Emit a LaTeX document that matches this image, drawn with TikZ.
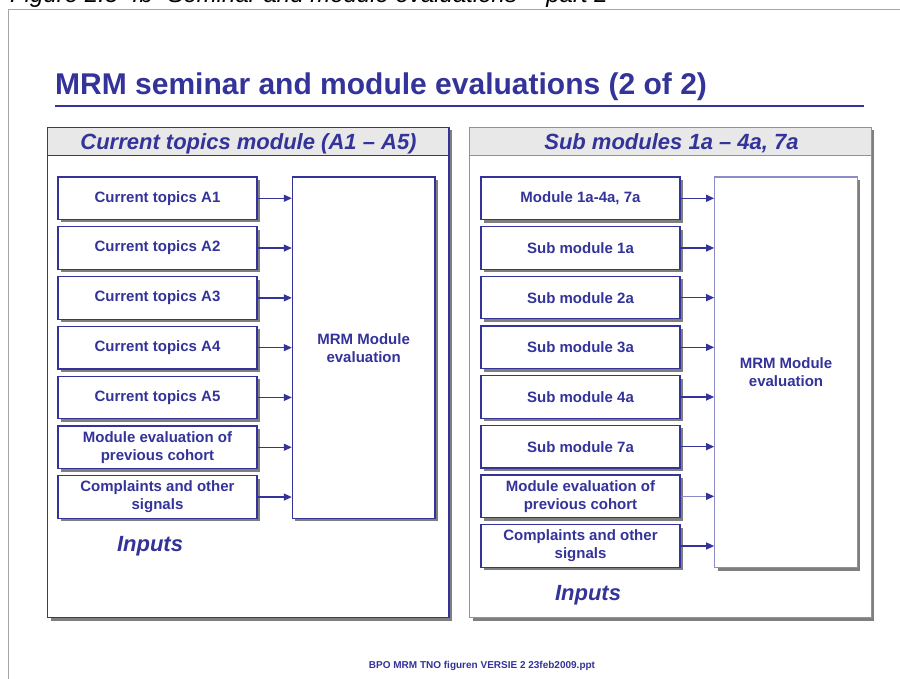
\documentclass[tikz,border=0pt]{standalone}
\usepackage{fontspec}
\setmainfont{Liberation Sans}
\usetikzlibrary{shadows,arrows.meta}
\definecolor{navy}{HTML}{333399}
\definecolor{paleedge}{HTML}{8C8CC8}
\definecolor{bandgray}{HTML}{E8E8E8}
\definecolor{shadowgray}{HTML}{7F7F7F}
\definecolor{framegray}{HTML}{A6A6A6}

\begin{document}
\begin{tikzpicture}[x=1pt,y=-1pt,
  shadowed/.style={drop shadow={shadow xshift=3pt,shadow yshift=-3pt,fill=shadowgray,opacity=1}},
  panel/.style={draw=#1,line width=1.2pt,fill=white,shadowed,minimum width=401.5pt,minimum height=490pt,inner sep=0pt},
  band/.style={draw=#1,line width=1.2pt,fill=bandgray,minimum width=401.5pt,minimum height=27.8pt,inner sep=0pt},
  bandtext/.style={inner sep=0pt,anchor=base,font=\fontsize{22}{24}\selectfont\bfseries\itshape,text=navy},
  inbox/.style={draw=navy,line width=1.2pt,fill=white,shadowed,minimum width=199pt,minimum height=42.5pt,inner sep=0pt,align=center,font=\fontsize{15}{18}\selectfont\bfseries,text=navy},
  evalbox/.style={draw=#1,line width=1.2pt,fill=white,shadowed,minimum width=142.5pt,inner sep=0pt,align=center,font=\fontsize{15}{18}\selectfont\bfseries,text=navy},
  feed/.style={draw=navy,line width=1.3pt,-{Triangle[length=8pt,width=7pt]}},
  inputlabel/.style={inner sep=0pt,anchor=base,font=\fontsize{22}{24}\selectfont\bfseries\itshape,text=navy},
]
\useasboundingbox (0,0) rectangle (900,679);
\fill[white] (0,0) rectangle (900,679);

% caption running off the top edge
\node[anchor=base west,inner sep=0pt,font=\fontsize{24}{26}\selectfont\itshape] (caption) at (10,3)
  {Figure 2.5-4b "Seminar and module evaluations" - part 2};

% slide frame
\draw[framegray,line width=1pt] (8.3,700) -- (8.3,9.3) -- (910,9.3);

% slide title with rule
\node[anchor=base west,inner sep=0pt,font=\fontsize{30}{32}\selectfont\bfseries,text=navy] (title) at (55,95)
  {MRM seminar and module evaluations (2 of 2)};
\draw[navy,line width=2.3pt] (55,106) -- (864,106);

% ---------- left panel ----------
\node[panel=navy] (lp) at (248.25,372.5) {};
\node[band=navy,anchor=north] (lh) at (lp.north) {};
\node[bandtext] (lht) at (248.5,149.3) {Current topics module (A1 – A5)};

\node[inbox] (l1) at (157.5,198.25) {Current topics A1};
\node[inbox] (l2) at (157.5,248.05) {Current topics A2};
\node[inbox] (l3) at (157.5,297.85) {Current topics A3};
\node[inbox] (l4) at (157.5,347.65) {Current topics A4};
\node[inbox] (l5) at (157.5,397.45) {Current topics A5};
\node[inbox] (l6) at (157.5,447.25) {Module evaluation of\\previous cohort};
\node[inbox] (l7) at (157.5,497.05) {Complaints and other\\signals};

\node[evalbox=navy,minimum height=341.3pt] (lm) at (363.65,347.65) {MRM Module\\evaluation};

\foreach \i in {1,...,7}
  \draw[feed] (l\i.east) -- (l\i.east -| lm.west);

\node[inputlabel] (lin) at (150,551.5) {Inputs};

% ---------- right panel ----------
\node[panel=paleedge] (rp) at (670.5,372.5) {};
\node[band=paleedge,anchor=north] (rh) at (rp.north) {};
\node[bandtext] (rht) at (671.5,149.3) {Sub modules 1a – 4a, 7a};

\node[inbox] (r1) at (580.5,198.3) {Module 1a-4a, 7a};
\node[inbox] (r2) at (580.5,247.97) {Sub module 1a};
\node[inbox] (r3) at (580.5,297.64) {Sub module 2a};
\node[inbox] (r4) at (580.5,347.31) {Sub module 3a};
\node[inbox] (r5) at (580.5,396.98) {Sub module 4a};
\node[inbox] (r6) at (580.5,446.65) {Sub module 7a};
\node[inbox] (r7) at (580.5,496.32) {Module evaluation of\\previous cohort};
\node[inbox] (r8) at (580.5,545.99) {Complaints and other\\signals};

\node[evalbox=paleedge,minimum height=390.7pt] (rm) at (786,372.35) {MRM Module\\evaluation};

\foreach \i in {1,...,6,8}
  \draw[feed] (r\i.east) -- (r\i.east -| rm.west);
\draw[feed,draw=paleedge,-{Triangle[length=8pt,width=7pt,color=navy]}] (r7.east) -- (r7.east -| rm.west);

\node[inputlabel] (rin) at (588,600.7) {Inputs};

% footer
\node[anchor=base,inner sep=0pt,font=\fontsize{10}{12}\selectfont\bfseries,text=navy] (foot) at (482,668)
  {BPO MRM TNO figuren VERSIE 2 23feb2009.ppt};
\end{tikzpicture}
\end{document}
